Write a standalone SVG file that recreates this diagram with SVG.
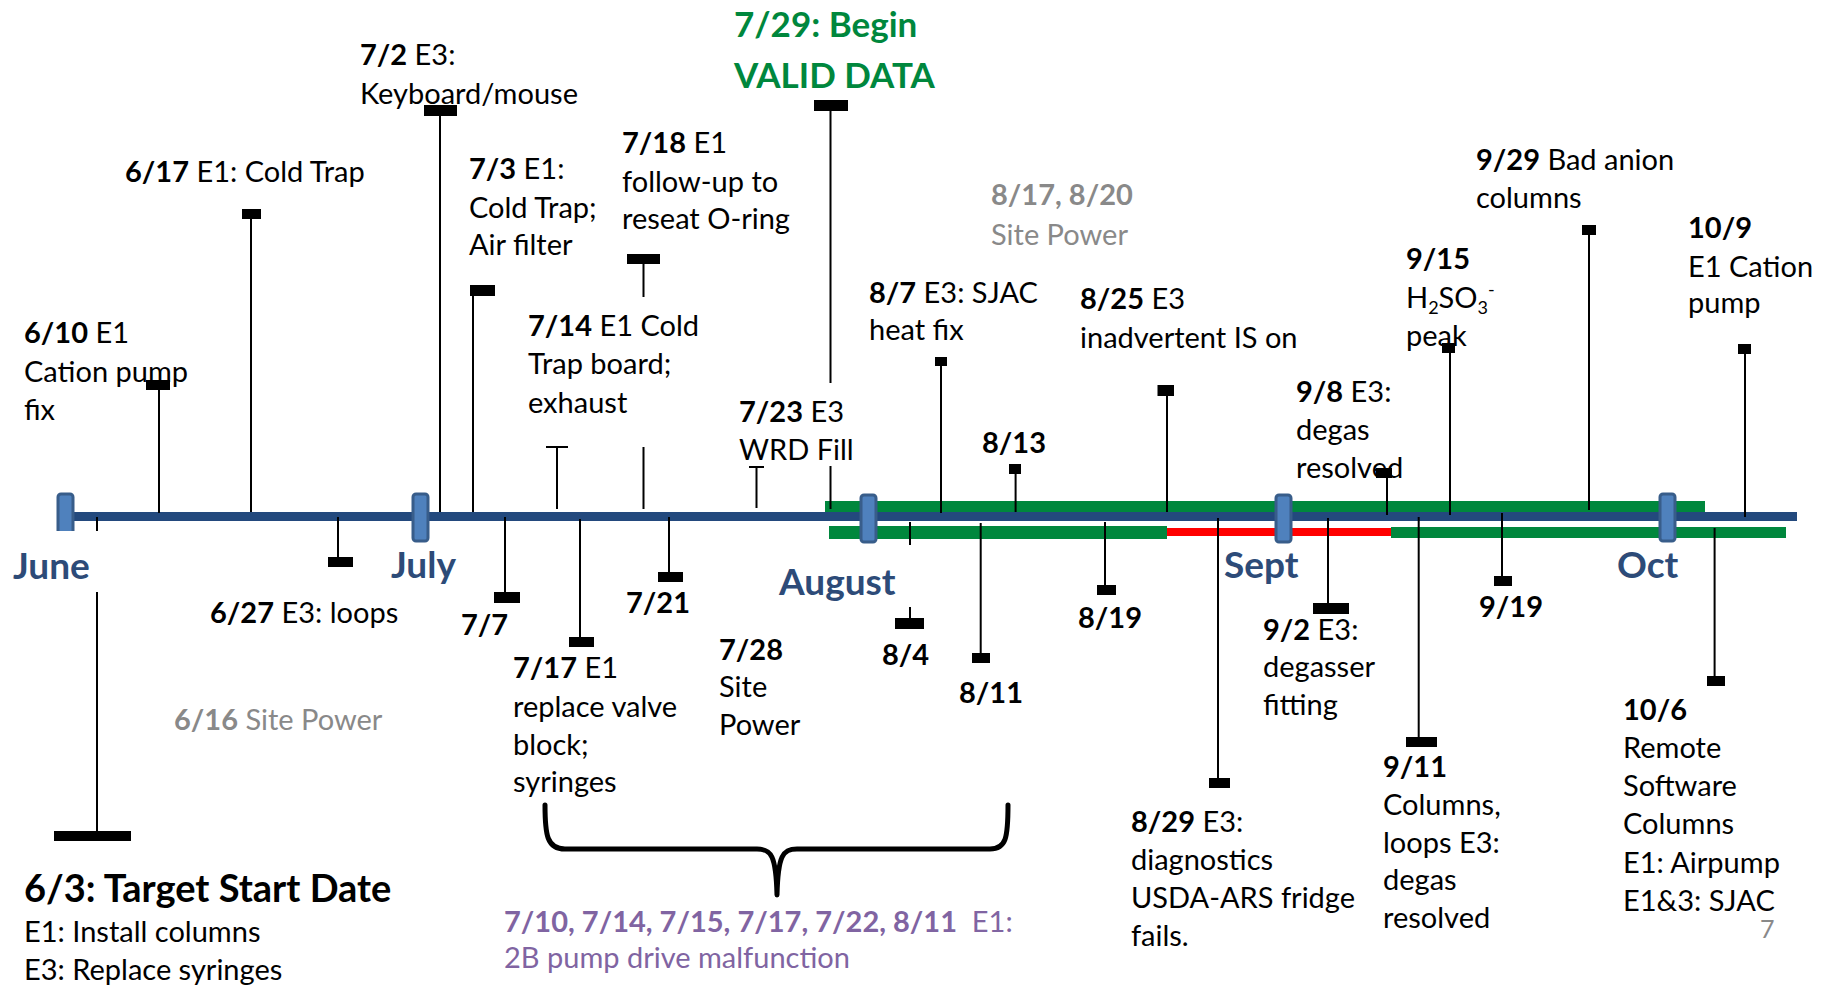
<svg xmlns="http://www.w3.org/2000/svg" width="1828" height="986" viewBox="0 0 1828 986">
<style>
.t{font-family:Lato,"Liberation Sans",sans-serif;font-size:29px;fill:#000}
.b{font-weight:bold}
.g{fill:#898989}
.p{fill:#8064A2}
.m{font-family:Lato,"Liberation Sans",sans-serif;font-size:37px;font-weight:bold;fill:#2D4B78}
.st{stroke:#000;stroke-width:2;fill:none}
.mk{fill:#000}
.mo{fill:#4F81BD;stroke:#385D8A;stroke-width:3}
</style>
<rect width="1828" height="986" fill="#fff"/>
<g id="timeline">
<rect x="825" y="501" width="880" height="11" fill="#00873D"/>
<rect x="62" y="512" width="1735" height="9" fill="#23497D"/>
<rect x="829" y="526" width="338" height="13" fill="#00873D"/>
<rect x="1167" y="528" width="224" height="8" fill="#FF0000"/>
<rect x="1391" y="527" width="395" height="11" fill="#00873D"/>
<rect class="mo" x="58" y="494" width="15" height="47" rx="3"/>
<rect class="mo" x="413" y="494" width="15" height="47" rx="3"/>
<rect class="mo" x="861" y="495" width="15" height="47" rx="3"/>
<rect class="mo" x="1276" y="495" width="15" height="47" rx="3"/>
<rect class="mo" x="1660" y="494" width="15" height="47" rx="3"/>
<rect x="5" y="531" width="100" height="61" fill="#fff"/>
</g>
<g id="months">
<text class="m" x="13" y="579">June</text>
<text class="m" x="391" y="578">July</text>
<text class="m" x="779" y="595">August</text>
<text class="m" x="1224" y="578">Sept</text>
<text class="m" x="1617" y="578">Oct</text>
</g>
<g id="n-0702"><text class="t" x="360" y="65"><tspan class="b">7/2</tspan> E3:</text><text class="t" x="360" y="104">Keyboard/mouse</text></g>
<g id="n-0617"><text class="t" x="125" y="182"><tspan class="b">6/17</tspan> E1: Cold Trap</text></g>
<g id="n-0703"><text class="t" x="469" y="179"><tspan class="b">7/3</tspan> E1:</text><text class="t" x="469" y="218">Cold Trap;</text><text class="t" x="469" y="255">Air filter</text></g>
<g id="n-0610"><text class="t" x="24" y="343"><tspan class="b">6/10</tspan> E1</text><text class="t" x="24" y="382">Cation pump</text><text class="t" x="24" y="420">fix</text></g>
<g id="n-0729"><text class="t b" x="734" y="37" style="font-size:35px;fill:#00873D">7/29: Begin</text><text class="t b" x="734" y="88" style="font-size:35px;fill:#00873D">VALID DATA</text></g>
<g id="n-0718"><text class="t" x="622" y="153"><tspan class="b">7/18</tspan> E1</text><text class="t" x="622" y="192">follow-up to</text><text class="t" x="622" y="229">reseat O-ring</text></g>
<g id="n-0817"><text class="t g" x="991" y="205"><tspan class="b">8/17, 8/20</tspan></text><text class="t g" x="991" y="245">Site Power</text></g>
<g id="n-0807"><text class="t" x="869" y="303"><tspan class="b">8/7</tspan> E3: SJAC</text><text class="t" x="869" y="340">heat fix</text></g>
<g id="n-0825"><text class="t" x="1080" y="309"><tspan class="b">8/25</tspan> E3</text><text class="t" x="1080" y="348">inadvertent IS on</text></g>
<g id="n-0929"><text class="t" x="1476" y="170"><tspan class="b">9/29</tspan> Bad anion</text><text class="t" x="1476" y="208">columns</text></g>
<g id="n-0915"><text class="t b" x="1406" y="269">9/15</text><text class="t" x="1406" y="308">H<tspan font-size="18" dy="6">2</tspan><tspan dy="-6">SO</tspan><tspan font-size="18" dy="6">3</tspan><tspan font-size="18" dy="-18">-</tspan></text><text class="t" x="1406" y="346">peak</text></g>
<g id="n-1009"><text class="t b" x="1688" y="238">10/9</text><text class="t" x="1688" y="277">E1 Cation</text><text class="t" x="1688" y="313">pump</text></g>
<g id="n-0714"><text class="t" x="528" y="336"><tspan class="b">7/14</tspan> E1 Cold</text><text class="t" x="528" y="374">Trap board;</text><text class="t" x="528" y="413">exhaust</text></g>
<g id="n-0723"><text class="t" x="739" y="422"><tspan class="b">7/23</tspan> E3</text><text class="t" x="739" y="460">WRD Fill</text></g>
<g id="n-0813"><text class="t b" x="982" y="453">8/13</text></g>
<g id="n-0908"><text class="t" x="1296" y="402"><tspan class="b">9/8</tspan> E3:</text><text class="t" x="1296" y="440">degas</text><text class="t" x="1296" y="478">resolved</text></g>
<g id="n-0627"><text class="t" x="210" y="623"><tspan class="b">6/27</tspan> E3: loops</text></g>
<g id="n-0707"><text class="t b" x="461" y="635">7/7</text></g>
<g id="n-0721"><text class="t b" x="626" y="613">7/21</text></g>
<g id="n-0819"><text class="t b" x="1078" y="628">8/19</text></g>
<g id="n-0919"><text class="t b" x="1479" y="617">9/19</text></g>
<g id="n-0728"><text class="t b" x="719" y="660">7/28</text><text class="t" x="719" y="697">Site</text><text class="t" x="719" y="735">Power</text></g>
<g id="n-0804"><text class="t b" x="882" y="665">8/4</text></g>
<g id="n-0811"><text class="t b" x="959" y="703">8/11</text></g>
<g id="n-0717"><text class="t" x="513" y="678"><tspan class="b">7/17</tspan> E1</text><text class="t" x="513" y="717">replace valve</text><text class="t" x="513" y="755">block;</text><text class="t" x="513" y="792">syringes</text></g>
<g id="n-0616"><text class="t g" x="174" y="730"><tspan class="b">6/16</tspan> Site Power</text></g>
<g id="n-0603"><text class="t b" x="24" y="902" style="font-size:38px">6/3: Target Start Date</text><text class="t" x="24" y="942">E1: Install columns</text><text class="t" x="24" y="980">E3: Replace syringes</text></g>
<g id="n-pump"><text class="t p" x="504" y="932" xml:space="preserve"><tspan class="b">7/10, 7/14, 7/15, 7/17, 7/22, 8/11</tspan>  E1:</text><text class="t p" x="504" y="968">2B pump drive malfunction</text></g>
<g id="n-0829"><text class="t" x="1131" y="832"><tspan class="b">8/29</tspan> E3:</text><text class="t" x="1131" y="870">diagnostics</text><text class="t" x="1131" y="908">USDA-ARS fridge</text><text class="t" x="1131" y="946">fails.</text></g>
<g id="n-0902"><text class="t" x="1263" y="640"><tspan class="b">9/2</tspan> E3:</text><text class="t" x="1263" y="677">degasser</text><text class="t" x="1263" y="715">fitting</text></g>
<g id="n-0911"><text class="t b" x="1383" y="777">9/11</text><text class="t" x="1383" y="815">Columns,</text><text class="t" x="1383" y="853">loops E3:</text><text class="t" x="1383" y="890">degas</text><text class="t" x="1383" y="928">resolved</text></g>
<g id="n-1006"><text class="t b" x="1623" y="720">10/6</text><text class="t" x="1623" y="758">Remote</text><text class="t" x="1623" y="796">Software</text><text class="t" x="1623" y="834">Columns</text><text class="t" x="1623" y="873">E1: Airpump</text><text class="t" x="1623" y="911">E1&amp;3: SJAC</text></g>
<g id="page"><text class="t g" x="1760" y="938" style="font-size:25px">7</text></g>
<g id="connectors">
<path class="st" d="M97 517V531M97 592V831"/><rect class="mk" x="54" y="831" width="77" height="10"/>
<path class="st" d="M159 390V513"/><rect class="mk" x="146" y="380" width="24" height="10"/>
<path class="st" d="M251 219V512"/><rect class="mk" x="242" y="209" width="19" height="10"/>
<path class="st" d="M338 517V557"/><rect class="mk" x="328" y="557" width="25" height="10"/>
<path class="st" d="M440 116V512"/><rect class="mk" x="424" y="105" width="33" height="11"/>
<path class="st" d="M473 296V512"/><rect class="mk" x="470" y="285" width="25" height="11"/>
<path class="st" d="M505 517V592"/><rect class="mk" x="494" y="592" width="26" height="11"/>
<path class="st" d="M546 447H568M557 447V509"/>
<path class="st" d="M580 519V637"/><rect class="mk" x="569" y="637" width="25" height="10"/>
<path class="st" d="M643.5 264V297M643.5 447V509"/><rect class="mk" x="627" y="254" width="33" height="10"/>
<path class="st" d="M669 517V572"/><rect class="mk" x="658" y="572" width="25" height="10"/>
<path class="st" d="M749 467H764M756.5 467V508"/>
<path class="st" d="M830.5 111V383M830.5 466V509"/><rect class="mk" x="814" y="100" width="34" height="11"/>
<path class="st" d="M910 522V545M910 607V618"/><rect class="mk" x="895" y="618" width="29" height="11"/>
<path class="st" d="M941 366V513"/><rect class="mk" x="935" y="357" width="12" height="9"/>
<path class="st" d="M980.7 523V653"/><rect class="mk" x="972" y="653" width="18" height="10"/>
<path class="st" d="M1015.6 474V512"/><rect class="mk" x="1009" y="464" width="12" height="10"/>
<path class="st" d="M1105 522V585"/><rect class="mk" x="1097" y="585" width="19" height="10"/>
<path class="st" d="M1167 396V512"/><rect class="mk" x="1157.5" y="385" width="16.5" height="11"/>
<path class="st" d="M1218 518V778"/><rect class="mk" x="1209" y="778" width="21" height="10"/>
<path class="st" d="M1328 518V603"/><rect class="mk" x="1313" y="603" width="36" height="11"/>
<path class="st" d="M1387 478V515"/><rect class="mk" x="1376" y="468" width="16" height="10"/>
<path class="st" d="M1418.7 517V737"/><rect class="mk" x="1406" y="737" width="31" height="10"/>
<path class="st" d="M1450 353V515"/><rect class="mk" x="1442" y="343" width="13" height="10"/>
<path class="st" d="M1502 513V576"/><rect class="mk" x="1494" y="576" width="18" height="10"/>
<path class="st" d="M1589 235V510"/><rect class="mk" x="1582" y="225" width="14" height="10"/>
<path class="st" d="M1714.6 528V676"/><rect class="mk" x="1707" y="676" width="18" height="10"/>
<path class="st" d="M1745 354V517"/><rect class="mk" x="1738" y="344" width="13" height="10"/>
<path d="M545 805C545 835 547 849 565 849L757 849C771 849 776 855 777 895C778 855 783 849 797 849L990 849C1006 849 1008 838 1008 805" fill="none" stroke="#000" stroke-width="5" stroke-linecap="round" stroke-linejoin="round"/>
</g>
</svg>
